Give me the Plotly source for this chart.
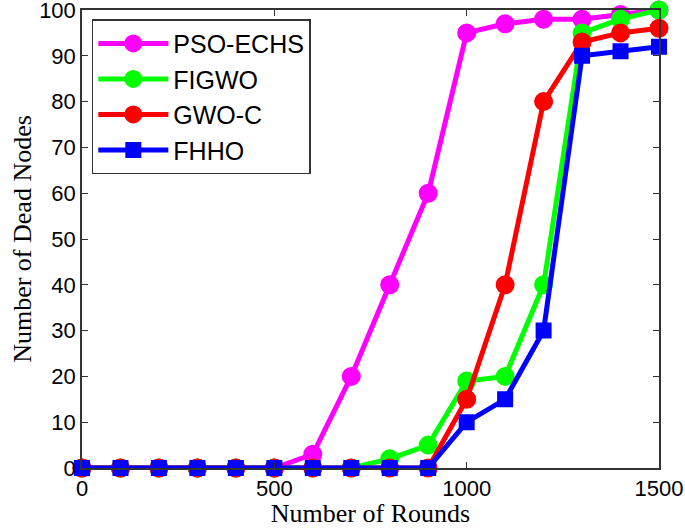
import plotly.graph_objects as go

rounds = [0, 100, 200, 300, 400, 500, 600, 700, 800, 900, 1000, 1100, 1200, 1300, 1400, 1500]
pso_echs = [0, 0, 0, 0, 0, 0, 3, 20, 40, 60, 95, 97, 98, 98, 99, 100]
figwo = [0, 0, 0, 0, 0, 0, 0, 0, 2, 5, 19, 20, 40, 95, 98, 100]
gwo_c = [0, 0, 0, 0, 0, 0, 0, 0, 0, 0, 15, 40, 80, 93, 95, 96]
fhho = [0, 0, 0, 0, 0, 0, 0, 0, 0, 0, 10, 15, 30, 90, 91, 92]

series = [
    ("PSO-ECHS", pso_echs, "#ff00ff", "circle"),
    ("FIGWO", figwo, "#00ff00", "circle"),
    ("GWO-C", gwo_c, "#ff0000", "circle"),
    ("FHHO", fhho, "#0000ff", "square"),
]

fig = go.Figure()
for name, vals, col, sym in series:
    fig.add_trace(go.Scatter(
        x=rounds, y=vals, name=name, mode="lines+markers",
        line=dict(color=col, width=5),
        marker=dict(color=col, size=17 if sym == "circle" else 14, symbol=sym,
                    line=dict(color=col, width=2)),
        cliponaxis=False,
    ))

axis_common = dict(
    showline=True, linecolor="#333333", linewidth=1.5, mirror="ticks",
    ticks="inside", ticklen=6, tickcolor="#333333", showgrid=False, zeroline=False,
    automargin=False, ticklabeloverflow="allow",
    tickfont=dict(family="Liberation Sans, Arial", size=22, color="black"),
)

fig.update_layout(
    width=685, height=528,
    margin=dict(l=82, r=26, t=10, b=60),
    paper_bgcolor="white", plot_bgcolor="white",
    xaxis=dict(range=[0, 1500], tickvals=[0, 500, 1000, 1500], ticklabelstandoff=0,
               title=dict(text="Number of Rounds", standoff=2,
                          font=dict(family="Liberation Serif, Times New Roman", size=26, color="black")),
               **axis_common),
    yaxis=dict(range=[0, 100], tickvals=list(range(0, 101, 10)), ticklabelstandoff=0,
               title=dict(text="Number of Dead Nodes", standoff=0,
                          font=dict(family="Liberation Serif, Times New Roman", size=26, color="black")),
               **axis_common),
    legend=dict(x=0.017, y=0.98, xanchor="left", yanchor="top",
                bgcolor="white", bordercolor="#333333", borderwidth=1.5,
                font=dict(family="Liberation Sans, Arial", size=25, color="black"),
                itemwidth=70, tracegroupgap=0),
    showlegend=True,
)

fig.write_html("out.html", config={"displayModeBar": False},
               post_script="document.body.style.margin='0';")
